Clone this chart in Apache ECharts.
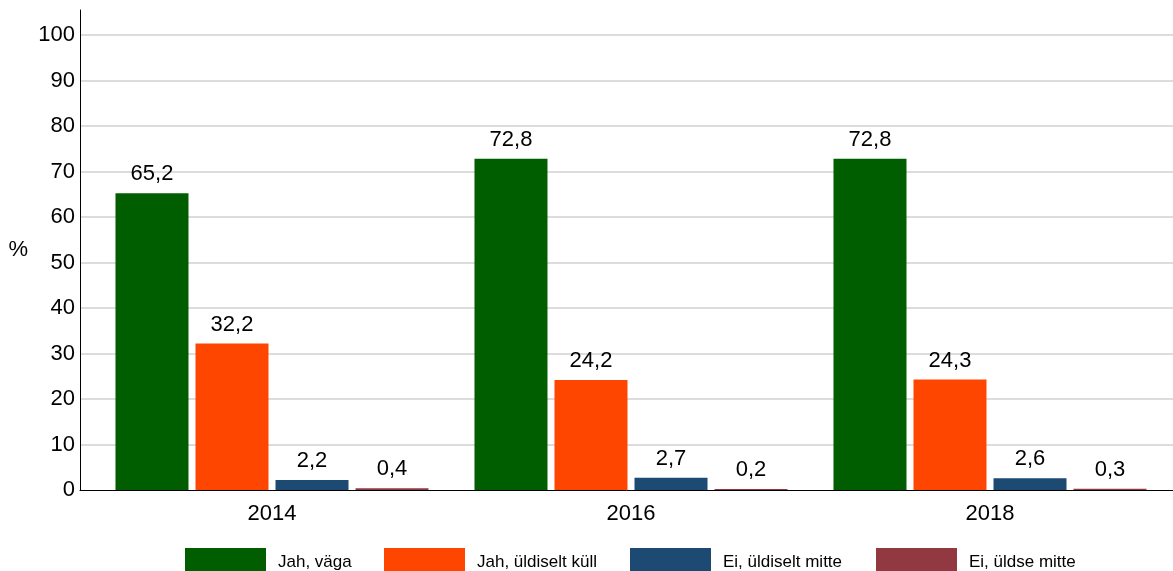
<!DOCTYPE html>
<html>
<head>
<meta charset="utf-8">
<script src="https://cdn.jsdelivr.net/npm/echarts@6/dist/echarts.min.js"></script>
<style>
  html, body { margin: 0; padding: 0; background: #ffffff; }
  #chart { width: 1173px; height: 571px; }
</style>
</head>
<body>
<div id="chart"></div>
<script>
// Survey answers per year, in percent
const years = ['2014', '2016', '2018'];
const seriesNames = ['Jah, väga', 'Jah, üldiselt küll', 'Ei, üldiselt mitte', 'Ei, üldse mitte'];
const jahVaga = [65.2, 72.8, 72.8];
const jahUldiseltKull = [32.2, 24.2, 24.3];
const eiUldiseltMitte = [2.2, 2.7, 2.6];
const eiUldseMitte = [0.4, 0.2, 0.3];
const yTickStep = 10;
const yLabelMax = 100;

const colors = ['#005e00', '#ff4600', '#1c4a72', '#913840'];
const seriesValues = [jahVaga, jahUldiseltKull, eiUldiseltMitte, eiUldseMitte];

const FONT = '"Liberation Sans", Arial, sans-serif';
const axisTop = 105.5;   // the axis line runs a little above the last labelled tick

const chart = echarts.init(document.getElementById('chart'), null, { renderer: 'canvas' });

const legendLefts = [185, 384, 630, 876];

const option = {
  backgroundColor: '#ffffff',
  animation: false,
  textStyle: { fontFamily: FONT },
  grid: [
    // bars
    { left: 92.5, right: 3.5, top: 10, bottom: 81 },
    // frame: full-width axis lines and gridlines
    { left: 80, right: 0, top: 10, bottom: 81 }
  ],
  legend: seriesNames.map((name, i) => ({
    data: [name],
    left: legendLefts[i],
    top: 548,
    padding: 0,
    itemWidth: 81,
    itemHeight: 28,
    icon: 'rect',
    selectedMode: false,
    textStyle: { fontSize: 17, color: '#000', fontFamily: FONT, padding: [0, 0, 0, 7] }
  })),
  xAxis: [
    {
      type: 'category',
      gridIndex: 0,
      data: years,
      axisLine: { show: false },
      axisTick: { show: false },
      axisLabel: { fontSize: 22, color: '#000', margin: 13, fontFamily: FONT },
      splitLine: { show: false }
    },
    {
      type: 'value',
      gridIndex: 1,
      min: 0,
      max: 1,
      axisLine: { show: true, lineStyle: { color: '#000', width: 1 } },
      axisTick: { show: false },
      axisLabel: { show: false },
      splitLine: { show: false }
    }
  ],
  yAxis: [
    {
      type: 'value',
      gridIndex: 0,
      min: 0,
      max: axisTop,
      show: false
    },
    {
      type: 'value',
      gridIndex: 1,
      min: 0,
      max: axisTop,
      interval: yTickStep,
      name: '%',
      nameLocation: 'middle',
      nameRotate: 0,
      nameGap: 52,
      nameTextStyle: { fontSize: 22, color: '#000', fontFamily: FONT },
      axisLine: { show: true, lineStyle: { color: '#000', width: 1 } },
      axisTick: { show: false },
      axisLabel: {
        fontSize: 22,
        color: '#000',
        margin: 5,
        fontFamily: FONT,
        showMaxLabel: false,
        formatter: v => (v % yTickStep === 0 && v <= yLabelMax) ? String(v) : ''
      },
      splitLine: {
        show: true,
        showMinLine: false,
        showMaxLine: false,
        lineStyle: { color: '#dcdcdc', width: 2 }
      }
    }
  ],
  series: seriesNames.map((name, i) => ({
    name: name,
    type: 'bar',
    xAxisIndex: 0,
    yAxisIndex: 0,
    data: seriesValues[i],
    barWidth: 73,
    barGap: '9.6%',
    itemStyle: { color: colors[i] },
    label: {
      show: true,
      position: 'top',
      distance: 8,
      fontSize: 22,
      color: '#000',
      fontFamily: FONT,
      formatter: p => String(p.value).replace('.', ',')
    }
  }))
};

chart.setOption(option);
</script>
</body>
</html>
